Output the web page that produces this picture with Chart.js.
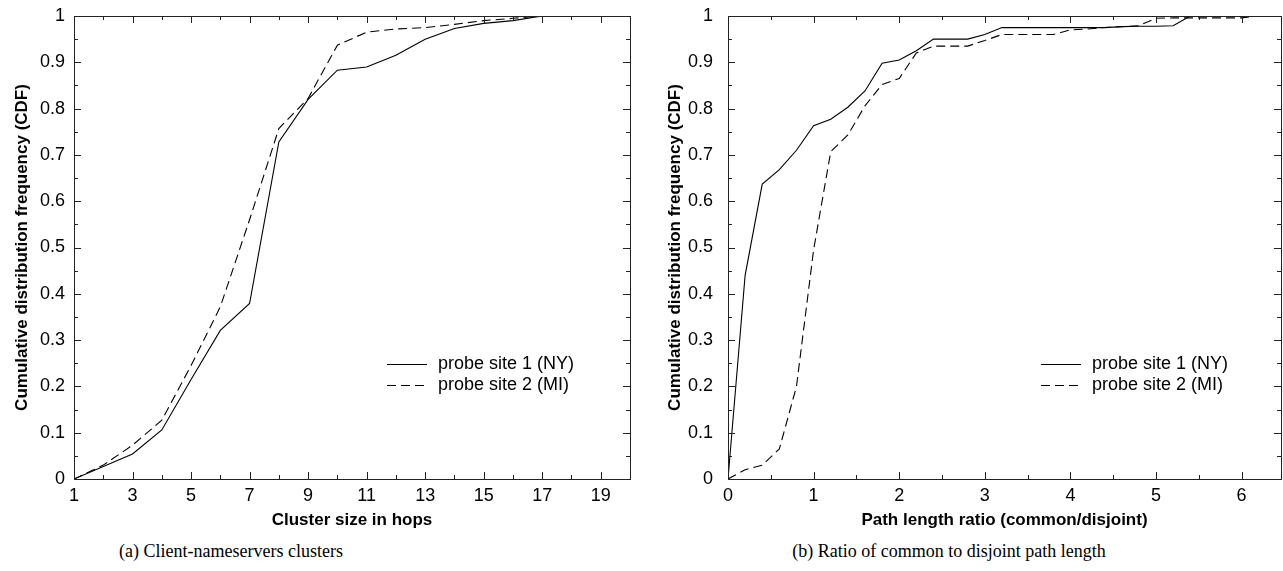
<!DOCTYPE html>
<html>
<head>
<meta charset="utf-8">
<script src="https://cdn.jsdelivr.net/npm/chart.js@4"></script>
<style>
  body { margin: 0; background: #fff; width: 1283px; height: 571px; overflow: hidden; position: relative; }
  .box { position: absolute; top: 0; height: 540px; }
  .cap { position: absolute; top: 541px; font-family: "Liberation Serif", "Times New Roman", serif; font-size: 18px; color: #000; white-space: nowrap; transform: translateX(-50%); }
</style>
</head>
<body>
<div class="box" style="left:0; width:640px;"><canvas id="clusterChart"></canvas></div>
<div class="box" style="left:640px; width:643px;"><canvas id="ratioChart"></canvas></div>
<div class="cap" style="left:231px;">(a) Client-nameservers clusters</div>
<div class="cap" style="left:949px;">(b) Ratio of common to disjoint path length</div>
<script>
// (a) cluster size in hops
const hops = [1, 2, 3, 4, 5, 6, 7, 8, 9, 10, 11, 12, 13, 14, 15, 16, 17, 18, 19, 20];
const hopsNY = [0, 0.027, 0.054, 0.106, 0.215, 0.321, 0.379, 0.728, 0.82, 0.883, 0.89, 0.915, 0.95, 0.973, 0.984, 0.99, 1, 1, 1, 1];
const hopsMI = [0, 0.03, 0.073, 0.127, 0.245, 0.372, 0.56, 0.757, 0.822, 0.937, 0.965, 0.972, 0.975, 0.982, 0.99, 0.995, 1, 1, 1, 1];

// (b) path length ratio
const ratios = [0, 0.2, 0.4, 0.6, 0.8, 1.0, 1.2, 1.4, 1.6, 1.8, 2.0, 2.2, 2.4, 2.6, 2.8, 3.0,
                3.2, 3.4, 3.6, 3.8, 4.0, 4.2, 4.4, 4.6, 4.8, 5.0, 5.2, 5.4, 5.6, 5.8, 6.0, 6.2];
const ratioNY = [0, 0.44, 0.637, 0.668, 0.71, 0.763, 0.777, 0.803, 0.838, 0.898, 0.905, 0.925, 0.95, 0.95, 0.95, 0.96,
                 0.975, 0.975, 0.975, 0.975, 0.975, 0.975, 0.975, 0.977, 0.978, 0.978, 0.979, 1, 1, 1, 1, 1];
const ratioMI = [0, 0.02, 0.03, 0.065, 0.2, 0.495, 0.707, 0.743, 0.806, 0.852, 0.865, 0.92, 0.935, 0.935, 0.935, 0.947,
                 0.96, 0.96, 0.96, 0.96, 0.97, 0.972, 0.975, 0.977, 0.979, 0.995, 0.996, 0.996, 0.996, 0.996, 0.996, 1];

const seriesNames = ['probe site 1 (NY)', 'probe site 2 (MI)'];
const yTitle = 'Cumulative distribution frequency (CDF)';

const FONT = '"Liberation Sans", Arial, Helvetica, sans-serif';

// gnuplot-like frame: box, inward ticks on all four sides, legend inside the plot
const gnuFrame = {
  id: 'gnuFrame',
  afterDatasetsDraw(chart, args, opts) {
    const { ctx, chartArea: a, scales: { x, y } } = chart;
    ctx.save();
    ctx.strokeStyle = '#222';
    ctx.lineWidth = 1;
    ctx.strokeRect(Math.round(a.left) + 0.5, Math.round(a.top) + 0.5,
                   Math.round(a.right - a.left), Math.round(a.bottom - a.top));
    ctx.beginPath();
    x.ticks.forEach(t => {
      const px = Math.round(x.getPixelForValue(t.value)) + 0.5;
      const len = t.label ? 7 : 4;
      ctx.moveTo(px, a.bottom); ctx.lineTo(px, a.bottom - len);
      ctx.moveTo(px, a.top); ctx.lineTo(px, a.top + len);
    });
    y.ticks.forEach(t => {
      const py = Math.round(y.getPixelForValue(t.value)) + 0.5;
      const len = t.label ? 7 : 4;
      ctx.moveTo(a.left, py); ctx.lineTo(a.left + len, py);
      ctx.moveTo(a.right, py); ctx.lineTo(a.right - len, py);
    });
    ctx.stroke();

    // legend
    ctx.font = '18px ' + FONT;
    ctx.fillStyle = '#000';
    ctx.textBaseline = 'middle';
    chart.data.datasets.forEach((ds, i) => {
      const ly = opts.top + i * 21 + 0.5;
      ctx.beginPath();
      ctx.setLineDash(ds.borderDash || []);
      ctx.strokeStyle = '#000';
      ctx.moveTo(opts.left, ly);
      ctx.lineTo(opts.left + 40, ly);
      ctx.stroke();
      ctx.setLineDash([]);
      ctx.fillText(ds.label, opts.left + 51, ly);
    });
    ctx.restore();
  }
};

function makeChart(id, xs, ys1, ys2, cfg) {
  new Chart(document.getElementById(id), {
    type: 'line',
    data: {
      datasets: [
        { label: seriesNames[0], data: xs.map((v, i) => ({ x: v, y: ys1[i] })),
          borderColor: '#000', borderWidth: 1.1, pointRadius: 0, fill: false },
        { label: seriesNames[1], data: xs.map((v, i) => ({ x: v, y: ys2[i] })),
          borderColor: '#000', borderWidth: 1.1, borderDash: [9, 5], pointRadius: 0, fill: false }
      ]
    },
    options: {
      responsive: true,
      maintainAspectRatio: false,
      animation: false,
      layout: { padding: { top: 16, right: cfg.padRight, left: 0, bottom: 0 } },
      plugins: {
        legend: { display: false },
        tooltip: { enabled: false },
        gnuFrame: cfg.legend
      },
      scales: {
        x: {
          type: 'linear',
          min: cfg.xMin, max: cfg.xMax,
          grid: { display: false, drawTicks: false },
          border: { display: false },
          afterFit: s => { s.height = 61; s.paddingLeft = 0; s.paddingRight = 0; },
          ticks: {
            stepSize: cfg.xStep, includeBounds: false, autoSkip: false, maxRotation: 0,
            padding: 6, color: '#000', font: { family: FONT, size: 18 },
            callback: cfg.xLabel
          },
          title: {
            display: true, text: cfg.xTitle, color: '#000',
            font: { family: FONT, size: 17, weight: 'bold' },
            padding: { top: 0, bottom: 9 }
          }
        },
        y: {
          type: 'linear',
          min: 0, max: 1,
          grid: { display: false, drawTicks: false },
          border: { display: false },
          afterFit: s => { s.width = cfg.yWidth; s.paddingTop = 0; s.paddingBottom = 0; },
          ticks: {
            stepSize: 0.05, autoSkip: false, padding: cfg.yPad, color: '#000',
            font: { family: FONT, size: 18 },
            callback: v => {
              const k = Math.round(v * 100);
              return k % 10 === 0 ? String(k / 100) : '';
            }
          },
          title: {
            display: true, text: yTitle, color: '#000',
            font: { family: FONT, size: 17, weight: 'bold' },
            padding: { top: cfg.yTitlePad, bottom: 0 }
          }
        }
      }
    },
    plugins: [gnuFrame]
  });
}

makeChart('clusterChart', hops, hopsNY, hopsMI, {
  xMin: 1, xMax: 20, xStep: 1, padRight: 10, yWidth: 74, yPad: 9, yTitlePad: 12,
  xTitle: 'Cluster size in hops',
  xLabel: v => (Math.round(v) % 2 === 1 && v < 20 ? String(Math.round(v)) : ''),
  legend: { left: 387, top: 364 }
});

makeChart('ratioChart', ratios, ratioNY, ratioMI, {
  xMin: 0, xMax: 6.46, xStep: 0.5, padRight: 2, yWidth: 88, yPad: 15, yTitlePad: 25,
  xTitle: 'Path length ratio (common/disjoint)',
  xLabel: v => (Math.abs(v - Math.round(v)) < 1e-6 ? String(Math.round(v)) : ''),
  legend: { left: 401, top: 364 }
});
</script>
</body>
</html>
